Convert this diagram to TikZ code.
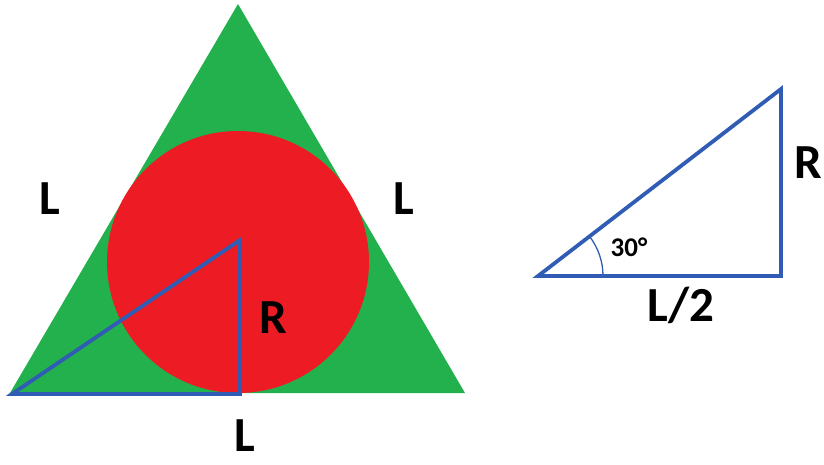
\documentclass[tikz,border=0pt]{standalone}
\usepackage{fontspec}
\setmainfont{Carlito}
\usepackage{tikz}
\usetikzlibrary{positioning}

\definecolor{trigreen}{RGB}{34,177,76}
\definecolor{circred}{RGB}{237,28,36}
\definecolor{edgeblue}{RGB}{48,92,180}

\tikzset{
    biglabel/.style={font=\fontsize{49}{49}\selectfont\bfseries,inner sep=0pt},
    anglabel/.style={font=\fontsize{27}{27}\selectfont\bfseries,inner sep=0pt},
    side/.style={draw=edgeblue,line width=3.8pt,line join=miter}
}

\begin{document}
\begin{tikzpicture}[x=1pt,y=-1pt]
    \useasboundingbox (0,0) rectangle (824,464);

    % left: triangle with its inscribed circle
    \coordinate (A) at (10,393);
    \coordinate (B) at (465,393);
    \coordinate (C) at (238,4);
    \fill[trigreen] (A) -- (B) -- (C) -- cycle;
    \fill[circred] (238,262) circle (131);

    \coordinate (p) at (12,394);
    \coordinate (q) at (240,240);
    \coordinate (r) at (240,394);
    \draw[side] (p) -- (q) -- (r) -- cycle;

    \node[biglabel] (sl) at (50,199) {L};
    \node[biglabel] (sr) at (404,199) {L};
    \node[biglabel] (rad) at (273,318) {R};
    \node[biglabel] (base) at (245,436) {L};

    % right: the half triangle
    \coordinate (u) at (538,276);
    \coordinate (v) at (781,276);
    \coordinate (w) at (781,89);
    \draw[side] (u) -- (v) -- (w) -- cycle;
    \draw[edgeblue,line width=1.3pt] ([xshift=65pt]u) arc[start angle=0,end angle=37.6,radius=65pt];

    \node[anglabel] (ang) at (629,247) {30°};
    \node[biglabel] (rr) at (808,163) {R};
    \node[biglabel] (half) at (681,305) {L/2};
\end{tikzpicture}
\end{document}
